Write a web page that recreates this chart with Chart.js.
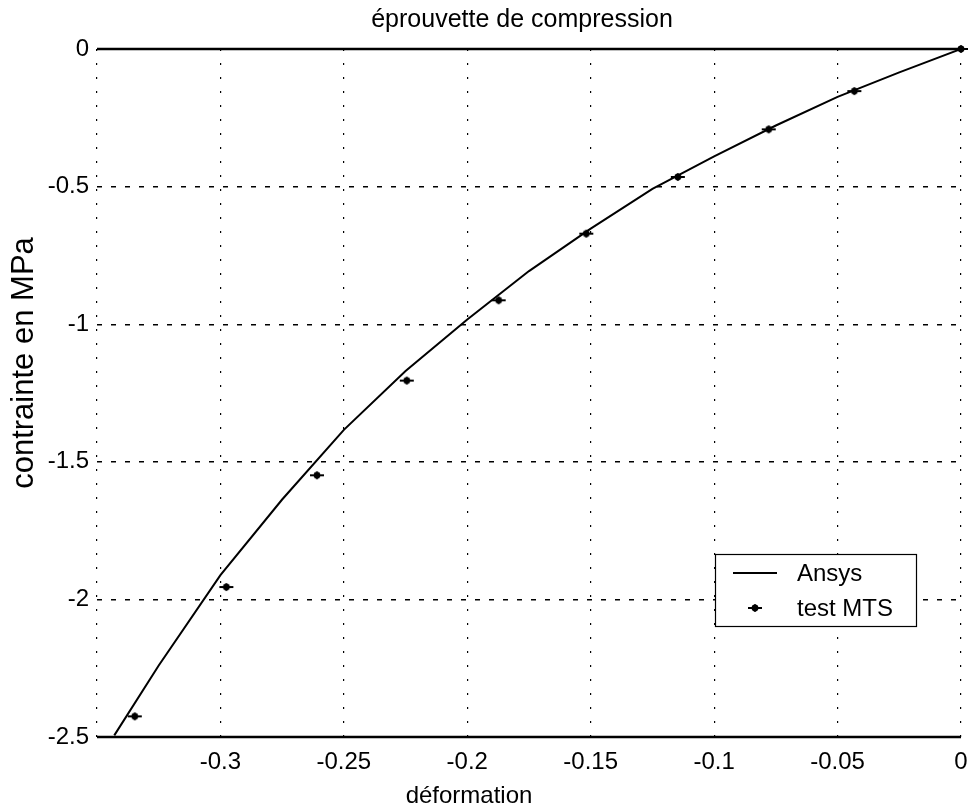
<!DOCTYPE html>
<html>
<head>
<meta charset="utf-8">
<script src="https://cdn.jsdelivr.net/npm/chart.js@4"></script>
<style>
  html, body { margin: 0; padding: 0; background: #fff; }
  canvas { display: block; }
</style>
</head>
<body>
<canvas id="c" width="968" height="810"></canvas>
<script>
// Ansys simulation curve (strain, stress in MPa)
const ansysStrain = [0, -0.025, -0.05, -0.075, -0.1, -0.125, -0.15, -0.175, -0.2, -0.225, -0.25, -0.275, -0.3, -0.325, -0.343];
const ansysStress = [0, -0.085, -0.174, -0.278, -0.39, -0.508, -0.653, -0.807, -0.983, -1.17, -1.384, -1.637, -1.912, -2.24, -2.494];

// MTS test measurements
const mtsStrain = [0, -0.0432, -0.0779, -0.1147, -0.1518, -0.1873, -0.2245, -0.2609, -0.2976, -0.3347];
const mtsStress = [0, -0.153, -0.292, -0.465, -0.671, -0.913, -1.205, -1.549, -1.955, -2.425];

// Axes
const xRange = [-0.35, 0];
const yRange = [-2.5, 0];
const xTicks = [-0.3, -0.25, -0.2, -0.15, -0.1, -0.05, 0];
const yTicks = [0, -0.5, -1, -1.5, -2, -2.5];

const titleText = 'éprouvette de compression';
const xLabel = 'déformation';
const yLabel = 'contrainte en MPa';
const seriesNames = ['Ansys', 'test MTS'];

const FONT = '"Liberation Sans", Arial, Helvetica, sans-serif';

function fmt(v) {
  const r = Math.round(v * 100) / 100;
  return r === 0 ? '0' : String(r);
}

// "+"-like marker with a filled centre
function makeMarker() {
  const c = document.createElement('canvas');
  c.width = 16; c.height = 10;
  const g = c.getContext('2d');
  g.fillStyle = '#000';
  g.strokeStyle = '#000';
  g.lineWidth = 2;
  g.beginPath(); g.moveTo(1, 5); g.lineTo(15, 5); g.stroke();
  g.beginPath(); g.arc(8, 5, 3.4, 0, Math.PI * 2); g.fill();
  g.lineWidth = 1.4;
  g.beginPath(); g.moveTo(8, 1); g.lineTo(8, 9); g.stroke();
  return c;
}
const marker = makeMarker();

// Solid frame lines on the top and bottom of the plot area
const framePlugin = {
  id: 'frame',
  beforeDatasetsDraw(chart) {
    const { ctx, chartArea: a } = chart;
    ctx.save();
    ctx.strokeStyle = '#000';
    ctx.lineWidth = 2.5;
    ctx.setLineDash([]);
    ctx.beginPath();
    ctx.moveTo(a.left, a.top); ctx.lineTo(a.right, a.top);
    ctx.moveTo(a.left, a.bottom); ctx.lineTo(a.right, a.bottom);
    ctx.stroke();
    ctx.restore();
  }
};

// Title and axis labels
const labelsPlugin = {
  id: 'labels',
  afterDraw(chart) {
    const { ctx } = chart;
    ctx.save();
    ctx.fillStyle = '#000';
    ctx.textAlign = 'center';
    ctx.textBaseline = 'alphabetic';
    ctx.font = '25px ' + FONT;
    ctx.fillText(titleText, 522, 27);
    ctx.font = '24px ' + FONT;
    ctx.fillText(xLabel, 469, 803);
    ctx.translate(33, 363);
    ctx.rotate(-Math.PI / 2);
    ctx.font = '31px ' + FONT;
    ctx.fillText(yLabel, 0, 0);
    ctx.restore();
  }
};

// Boxed legend inside the plot area
const boxLegendPlugin = {
  id: 'boxLegend',
  afterDatasetsDraw(chart) {
    const { ctx } = chart;
    const ds = chart.data.datasets;
    const bx = 715, by = 554, bw = 201, bh = 72;
    ctx.save();
    ctx.fillStyle = '#fff';
    ctx.fillRect(bx, by, bw, bh);
    ctx.strokeStyle = '#000';
    ctx.lineWidth = 1.2;
    ctx.strokeRect(bx + 0.5, by + 0.5, bw, bh);
    // line sample
    ctx.lineWidth = ds[0].borderWidth;
    ctx.beginPath();
    ctx.moveTo(733, 573); ctx.lineTo(777, 573);
    ctx.stroke();
    // marker sample
    ctx.drawImage(marker, 755 - marker.width / 2, 608 - marker.height / 2);
    ctx.fillStyle = '#000';
    ctx.font = '24px ' + FONT;
    ctx.textAlign = 'left';
    ctx.textBaseline = 'middle';
    ctx.fillText(ds[0].label, 797, 574);
    ctx.fillText(ds[1].label, 797, 609);
    ctx.restore();
  }
};

new Chart(document.getElementById('c'), {
  type: 'scatter',
  data: {
    datasets: [
      {
        label: seriesNames[0],
        data: ansysStrain.map((x, i) => ({ x, y: ansysStress[i] })),
        showLine: true,
        borderColor: '#000',
        borderWidth: 2,
        pointRadius: 0,
        tension: 0,
        fill: false
      },
      {
        label: seriesNames[1],
        data: mtsStrain.map((x, i) => ({ x, y: mtsStress[i] })),
        showLine: false,
        pointStyle: marker,
        pointRadius: 6,
        clip: false
      }
    ]
  },
  options: {
    responsive: false,
    animation: false,
    devicePixelRatio: 1,
    layout: { autoPadding: false, padding: { left: 0, top: 49, right: 7, bottom: 0 } },
    plugins: {
      legend: { display: false },
      tooltip: { enabled: false },
      title: { display: false }
    },
    scales: {
      x: {
        type: 'linear',
        min: xRange[0],
        max: xRange[1],
        afterBuildTicks(scale) {
          scale.ticks = [xRange[0], ...xTicks].map(v => ({ value: v }));
        },
        afterFit(scale) {
          scale.height = 73;
          scale.paddingLeft = 0;
          scale.paddingRight = 0;
        },
        ticks: {
          color: '#000',
          font: { family: FONT, size: 24 },
          padding: 11,
          maxRotation: 0,
          autoSkip: false,
          callback: (v) => xTicks.some(t => Math.abs(t - v) < 1e-9) ? fmt(v) : ''
        },
        grid: { color: '#000', lineWidth: 1.2, drawTicks: false },
        border: { display: false, dash: [2, 12] }
      },
      y: {
        type: 'linear',
        min: yRange[0],
        max: yRange[1],
        afterBuildTicks(scale) {
          scale.ticks = yTicks.map(v => ({ value: v }));
        },
        afterFit(scale) {
          scale.width = 97;
          scale.paddingTop = 0;
          scale.paddingBottom = 0;
        },
        ticks: {
          color: '#000',
          font: { family: FONT, size: 24 },
          padding: 8,
          autoSkip: false,
          callback: (v) => fmt(v)
        },
        grid: { color: '#000', lineWidth: 1.4, drawTicks: false },
        border: { display: false, dash: [5, 9] }
      }
    }
  },
  plugins: [framePlugin, boxLegendPlugin, labelsPlugin]
});
</script>
</body>
</html>
